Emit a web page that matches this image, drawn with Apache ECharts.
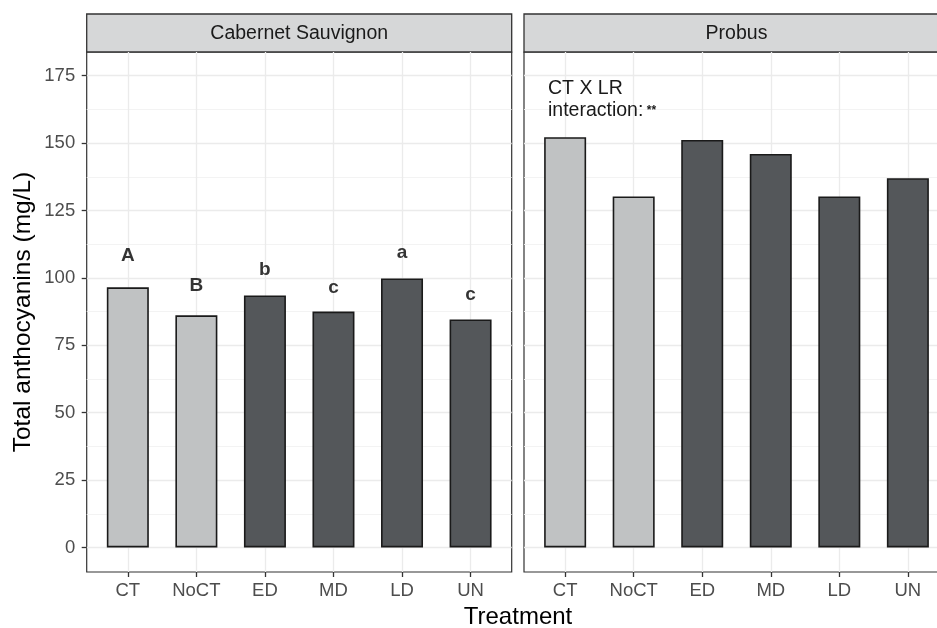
<!DOCTYPE html>
<html>
<head>
<meta charset="utf-8">
<script src="https://cdn.jsdelivr.net/npm/echarts@6/dist/echarts.min.js"></script>
<style>
html,body{margin:0;padding:0;background:#fff;overflow:hidden;width:937px;height:628px;}
#chart{width:952px;height:628px;}
</style>
</head>
<body>
<div id="chart"></div>
<script>
const categories = ['CT', 'NoCT', 'ED', 'MD', 'LD', 'UN'];
const cabernetValues = [96.5, 86.1, 93.5, 87.5, 99.8, 84.6];
const probusValues = [152.2, 130.2, 151.2, 146.0, 130.2, 137.0];
const cabernetLetters = ['A', 'B', 'b', 'c', 'a', 'c'];
const cabernetLetterY = [108.3, 97.2, 103.1, 96.4, 109.4, 93.8];
const groupOfCategory = ['control', 'control', 'lr', 'lr', 'lr', 'lr'];
const majorTicks = [0, 25, 50, 75, 100, 125, 150, 175];
const minorTicks = [12.5, 37.5, 62.5, 87.5, 112.5, 137.5, 162.5];
const xPositions = [1, 2, 3, 4, 5, 6];
const panelNames = ['Cabernet Sauvignon', 'Probus'];

const FONT = 'Liberation Sans, Arial, Helvetica, sans-serif';
const fillColors = { control: '#c0c2c3', lr: '#54575a' };
const Y_MIN = -9.1, Y_MAX = 183.8;
const panels = [
  { left: 86.7, top: 52, width: 425, height: 520 },
  { left: 524, top: 52, width: 425, height: 520 }
];

const grids = panels.map(p => ({
  left: p.left, top: p.top, width: p.width, height: p.height,
  show: true, borderColor: '#333333', borderWidth: 1.2, backgroundColor: '#ffffff',
  containLabel: false
}));

const xAxes = panels.map((p, i) => ({
  type: 'value', gridIndex: i, min: 0.4, max: 6.6,
  axisLine: { show: false, onZero: false },
  axisTick: { show: true, customValues: xPositions, length: 5, lineStyle: { color: '#333333', width: 1.3 } },
  axisLabel: {
    customValues: xPositions, margin: 9.5, color: '#4d4d4d', fontSize: 18.5, fontFamily: FONT,
    formatter: v => categories[Math.round(v) - 1]
  },
  splitLine: { show: true, lineStyle: { color: '#ebebeb', width: 1.3 } }
}));

const yAxes = [];
panels.forEach((p, i) => {
  yAxes.push({
    type: 'value', gridIndex: i, min: Y_MIN, max: Y_MAX, position: 'left',
    axisLine: { show: false, onZero: false },
    axisTick: { show: i === 0, customValues: majorTicks, length: 5, lineStyle: { color: '#333333', width: 1.3 } },
    axisLabel: { show: i === 0, customValues: majorTicks, margin: 11.5, color: '#4d4d4d', fontSize: 18.5, fontFamily: FONT },
    splitLine: { show: true, lineStyle: { color: '#ebebeb', width: 1.3 } },
    name: i === 0 ? 'Total anthocyanins (mg/L)' : '',
    nameLocation: 'middle', nameGap: 51,
    nameTextStyle: { color: '#000000', fontSize: 24.5, fontFamily: FONT }
  });
  yAxes.push({
    type: 'value', gridIndex: i, min: Y_MIN, max: Y_MAX, position: 'left',
    axisLine: { show: false, onZero: false },
    axisTick: { show: false, customValues: minorTicks },
    axisLabel: { show: false, customValues: minorTicks },
    splitLine: { show: true, lineStyle: { color: '#f2f2f2', width: 0.9 } }
  });
});

function barData(values) {
  return values.map((v, k) => ({
    value: [xPositions[k], v],
    itemStyle: { color: fillColors[groupOfCategory[k]] }
  }));
}

const series = [
  {
    type: 'bar', xAxisIndex: 0, yAxisIndex: 0, barWidth: 42, z: 3,
    itemStyle: { borderColor: '#1a1a1a', borderWidth: 1.6 },
    data: barData(cabernetValues)
  },
  {
    type: 'bar', xAxisIndex: 1, yAxisIndex: 2, barWidth: 42, z: 3,
    itemStyle: { borderColor: '#1a1a1a', borderWidth: 1.6 },
    data: barData(probusValues)
  },
  {
    type: 'scatter', xAxisIndex: 0, yAxisIndex: 0, symbolSize: 1, z: 4,
    itemStyle: { color: 'rgba(0,0,0,0)' },
    data: cabernetLetterY.map((y, k) => [xPositions[k], y, cabernetLetters[k]]),
    label: {
      show: true, position: 'inside', formatter: p => p.data[2],
      color: '#000000', fontSize: 19, fontWeight: 'bold', fontFamily: FONT
    }
  }
];

const graphic = [];
panels.forEach((p, i) => {
  graphic.push({
    type: 'rect', shape: { x: p.left, y: 14, width: p.width, height: p.top - 14 },
    style: { fill: '#d6d7d8', stroke: '#333333', lineWidth: 1.3 }
  });
  graphic.push({
    type: 'text', x: p.left + p.width / 2, y: 34,
    style: { text: panelNames[i], fill: '#1a1a1a', fontSize: 19.5, fontFamily: FONT, align: 'center', verticalAlign: 'middle' }
  });
});
graphic.push({
  type: 'text', x: 518, y: 617,
  style: { text: 'Treatment', fill: '#000000', fontSize: 24, fontFamily: FONT, align: 'center', verticalAlign: 'middle' }
});
graphic.push({
  type: 'text', x: 548, y: 89, z: 10,
  style: { text: 'CT X LR', fill: '#1a1a1a', fontSize: 19.5, fontFamily: FONT, align: 'left', verticalAlign: 'middle' }
});
graphic.push({
  type: 'text', x: 548, y: 111, z: 10,
  style: {
    text: '{a|interaction}{a|:}{b| **}', align: 'left', verticalAlign: 'middle',
    rich: {
      a: { fill: '#1a1a1a', fontSize: 19.5, fontFamily: FONT },
      b: { fill: '#1a1a1a', fontSize: 12, fontFamily: FONT, fontWeight: 'bold' }
    }
  }
});

const chart = echarts.init(document.getElementById('chart'), null, { renderer: 'canvas' });
chart.setOption({
  backgroundColor: '#ffffff',
  animation: false,
  grid: grids,
  xAxis: xAxes,
  yAxis: yAxes,
  series: series,
  graphic: graphic
});
</script>
</body>
</html>
